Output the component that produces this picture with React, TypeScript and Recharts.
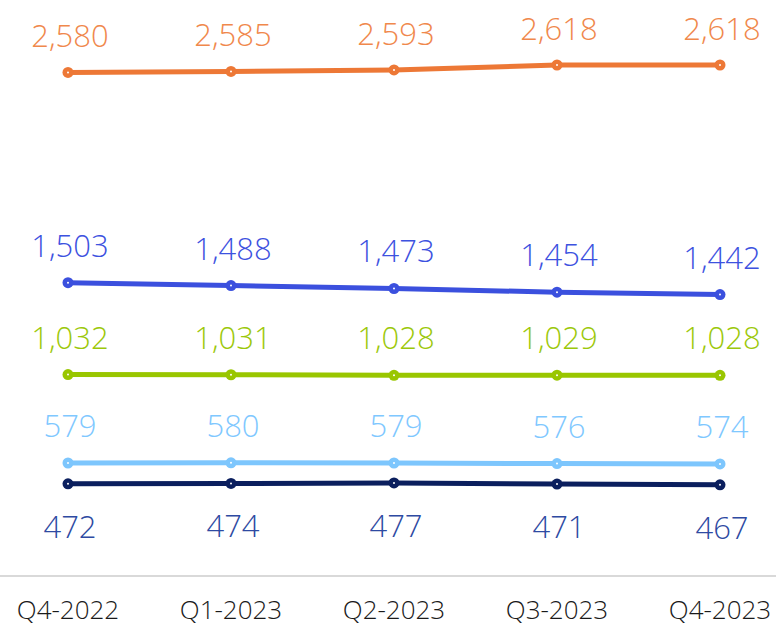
import React from 'react';
import { LineChart, Line, XAxis, YAxis } from 'recharts';

const categories = ['Q4-2022', 'Q1-2023', 'Q2-2023', 'Q3-2023', 'Q4-2023'];
const orangeValues = [2580, 2585, 2593, 2618, 2618];
const blueValues = [1503, 1488, 1473, 1454, 1442];
const greenValues = [1032, 1031, 1028, 1029, 1028];
const lightBlueValues = [579, 580, 579, 576, 574];
const navyValues = [472, 474, 477, 471, 467];

const data = categories.map((c, i) => ({
  name: c,
  orange: orangeValues[i],
  blue: blueValues[i],
  green: greenValues[i],
  lightBlue: lightBlueValues[i],
  navy: navyValues[i],
}));

const FONT = '"Open Sans", "Noto Sans", sans-serif';

const makeLabel = (color: string, dy: number) => (props: any) => {
  const { x, y, value, index } = props;
  return (
    <text
      key={`l-${index}`}
      x={x + 2}
      y={y + dy}
      textAnchor="middle"
      fill={color}
      fontSize={31}
      fontWeight={300}
      fontFamily={FONT}
    >
      {Number(value).toLocaleString('en-US')}
    </text>
  );
};

const makeDot = (color: string) => (props: any) => {
  const { cx, cy, index } = props;
  return (
    <g key={`d-${index}`}>
      <circle cx={cx} cy={cy} r={5.5} fill={color} />
      <circle cx={cx} cy={cy} r={1} fill="#fff" />
    </g>
  );
};

const series = [
  { key: 'orange', line: '#ED7836', label: '#F0884C', dy: -25 },
  { key: 'blue', line: '#3B50DE', label: '#3D52DF', dy: -26 },
  { key: 'green', line: '#99C600', label: '#9CC80A', dy: -26 },
  { key: 'lightBlue', line: '#7DC6FD', label: '#7FC8FF', dy: -26 },
  { key: 'navy', line: '#0B1F5E', label: '#2E4AA2', dy: 54 },
];

export default function App() {
  return (
    <div style={{ position: 'absolute', left: 0, top: 0, background: '#fff' }}>
      <LineChart
        width={776}
        height={627}
        data={data}
        margin={{ top: 65, right: 0, bottom: 0, left: 0 }}
      >
        <XAxis
          dataKey="name"
          height={51}
          padding={{ left: 68, right: 56 }}
          axisLine={{ stroke: '#D9D9D9', strokeWidth: 2 }}
          tickLine={false}
          tickSize={0}
          tickMargin={25}
          interval={0}
          tick={{ fill: '#1a1a1a', fontSize: 26, fontWeight: 300, fontFamily: FONT }}
        />
        <YAxis hide domain={[0, 2618]} />
        {series.map((s) => (
          <Line
            key={s.key}
            dataKey={s.key}
            stroke={s.line}
            strokeWidth={5}
            isAnimationActive={false}
            dot={makeDot(s.line)}
            activeDot={false}
            label={makeLabel(s.label, s.dy)}
          />
        ))}
      </LineChart>
    </div>
  );
}
